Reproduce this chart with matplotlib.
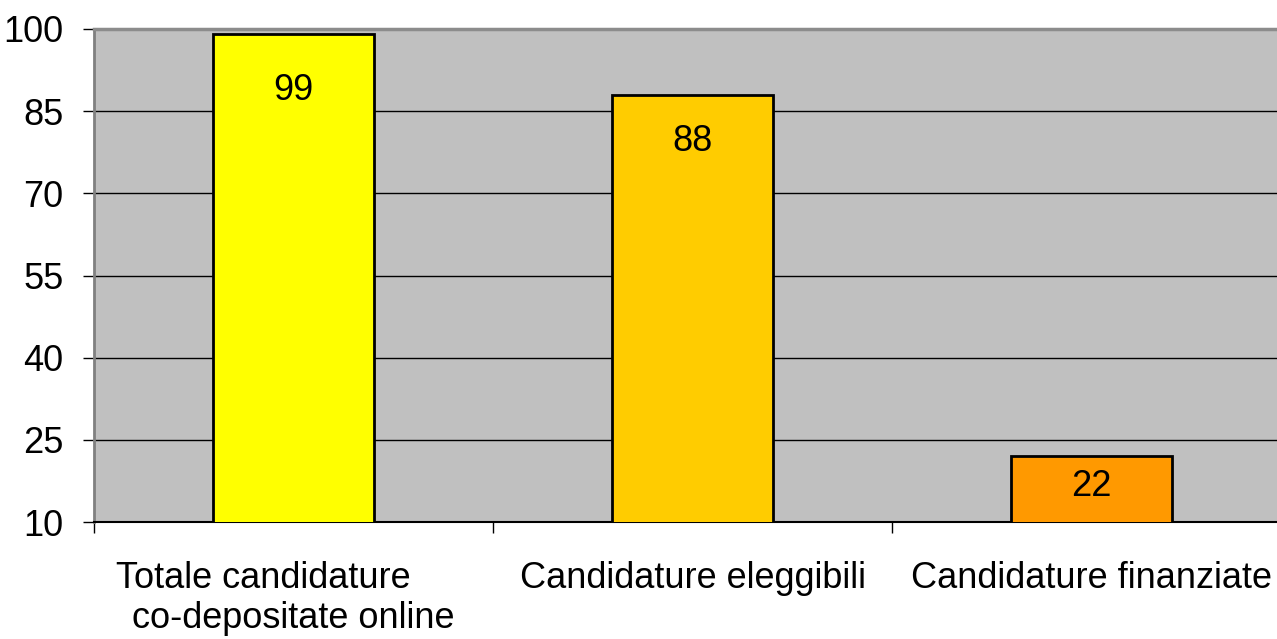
import matplotlib
matplotlib.use("Agg")
import matplotlib.pyplot as plt
import numpy as np

categories = ["Totale candidature      \nco-depositate online",
              "Candidature eleggibili",
              "Candidature finanziate"]
values = [99, 88, 22]
colors = ["#FFFF00", "#FFCC00", "#FF9900"]
yticks = [10, 25, 40, 55, 70, 85, 100]
label_offsets = [-40, -34, -22]  # points below bar top

plt.rcParams['font.family'] = ['Liberation Sans', 'DejaVu Sans']

fig = plt.figure(figsize=(12.77, 6.39), dpi=100)
ax = fig.add_axes([94/1277, 117/639, 1197/1277, 493/639])
ax.set_facecolor("#C0C0C0")

x = np.arange(len(categories))
bars = ax.bar(x, values, width=0.406, color=colors, edgecolor="black",
              linewidth=2.0, zorder=3)
ax.set_xlim(-0.5, 2.5)
ax.set_ylim(10, 100)

ax.set_yticks(yticks)
ax.set_yticklabels([str(t) for t in yticks], fontsize=26)
ax.tick_params(axis='y', length=8, width=1, pad=14, color='black')
for t in yticks[1:-1]:
    ax.axhline(t, color='black', linewidth=1, zorder=1)

ax.set_xticks(x)
ax.set_xticklabels(categories, fontsize=26, linespacing=1.2)
ax.tick_params(axis='x', which='major', length=0, pad=28)
ax.set_xticks(np.arange(-0.5, 3.0, 1.0), minor=True)
ax.tick_params(axis='x', which='minor', length=8, width=1, color='black')

ax.spines['right'].set_visible(False)
ax.spines['top'].set_color('#8C8C8C')
ax.spines['top'].set_linewidth(2.5)
ax.spines['left'].set_color('#808080')
ax.spines['left'].set_linewidth(2)
ax.spines['bottom'].set_color('black')
ax.spines['bottom'].set_linewidth(1.5)

for b, v, off in zip(bars, values, label_offsets):
    ax.annotate(str(v), (b.get_x() + b.get_width()/2, v), xytext=(0, off),
                textcoords='offset points', ha='center', va='center',
                fontsize=26, zorder=4)

fig.savefig("out.png", dpi=100)
